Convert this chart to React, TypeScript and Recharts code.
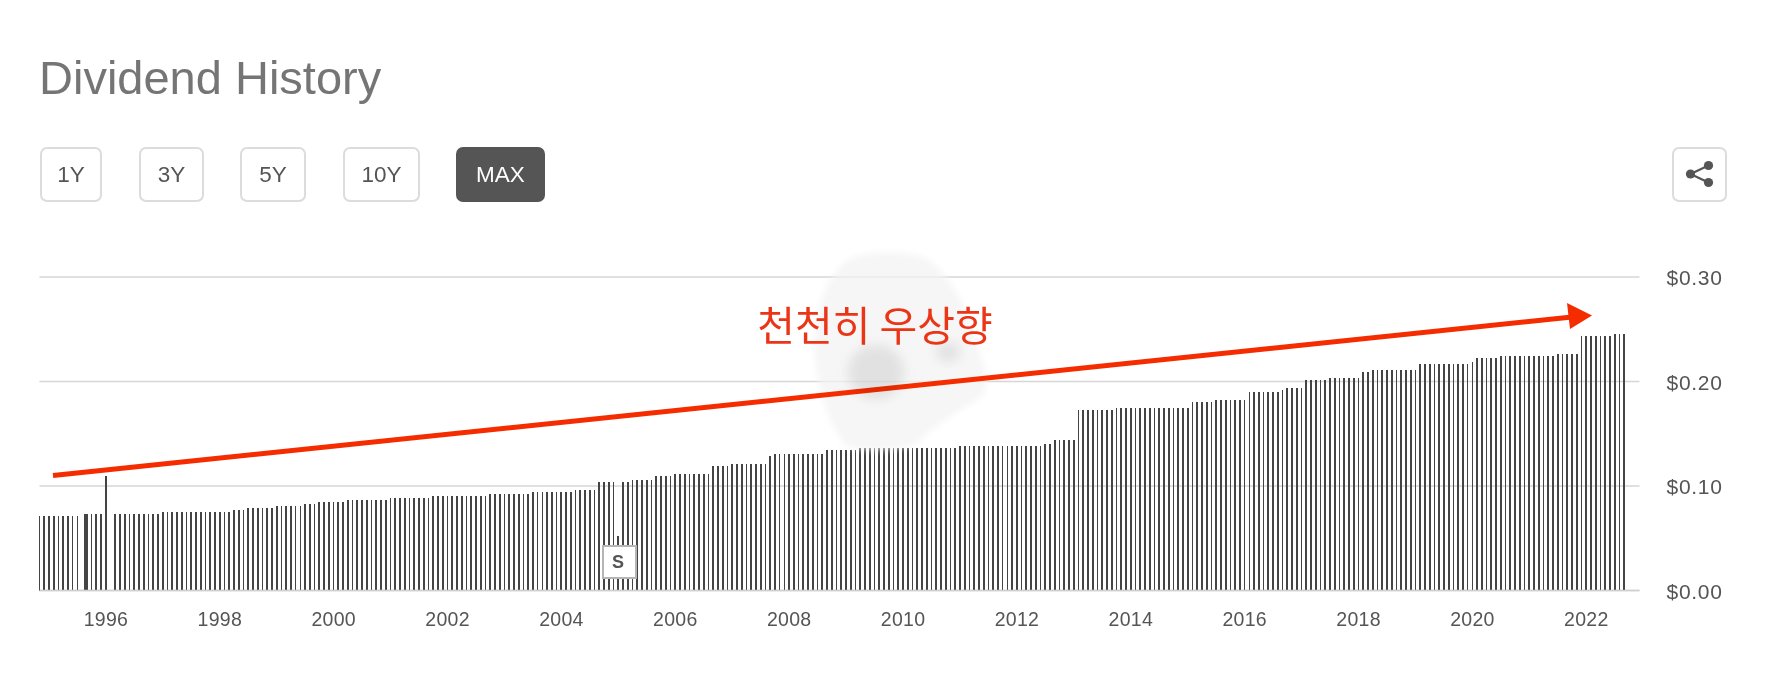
import { Bar, BarChart, CartesianGrid, XAxis, YAxis } from 'recharts';

const RANGE_BUTTONS = [
    { label: '1Y', left: 40, width: 62 },
    { label: '3Y', left: 139, width: 65 },
    { label: '5Y', left: 240, width: 66 },
    { label: '10Y', left: 343, width: 77 },
    { label: 'MAX', left: 456, width: 89, active: true },
];

const yearTicks = [
    1996, 1998, 2000, 2002, 2004, 2006, 2008, 2010, 2012, 2014, 2016, 2018,
    2020, 2022,
];
const priceTicks = [0, 0.1, 0.2, 0.3];

// monthly payouts, first one is Nov 1994 (null = no bar that month)
const monthlyDividends = [
    0.0713, 0.0713, 0.0713, 0.0713, 0.0713, 0.0713, 0.0713, 0.0713, 0.0713, null,
    0.0732, 0.0732, 0.0732, 0.0732, 0.1096, null,
    0.0732, 0.0732, 0.0732, 0.0732, 0.0732, 0.0732, 0.0732, 0.0732, 0.0732, 0.0732,
    0.0751, 0.0751, 0.0751, 0.0751, 0.0751, 0.0751, 0.0751, 0.0751, 0.0751, 0.0751, 0.0751, 0.0751, 0.0751, 0.0751, 0.0751,
    0.077, 0.077, 0.077,
    0.079, 0.079, 0.079, 0.079, 0.079, 0.079,
    0.0808, 0.0808, 0.0808, 0.0808, 0.0808, 0.0808,
    0.0828, 0.0828, 0.0828,
    0.0847, 0.0847, 0.0847, 0.0847, 0.0847, 0.0847,
    0.0866, 0.0866, 0.0866, 0.0866, 0.0866, 0.0866, 0.0866, 0.0866, 0.0866,
    0.0885, 0.0885, 0.0885, 0.0885, 0.0885, 0.0885, 0.0885, 0.0885, 0.0885,
    0.0904, 0.0904, 0.0904, 0.0904, 0.0904, 0.0904, 0.0904, 0.0904, 0.0904, 0.0904, 0.0904, 0.0904,
    0.0924, 0.0924, 0.0924, 0.0924, 0.0924, 0.0924, 0.0924, 0.0924, 0.0924,
    0.0943, 0.0943, 0.0943, 0.0943, 0.0943, 0.0943, 0.0943, 0.0943, 0.0943,
    0.0962, 0.0962, 0.0962, 0.0962, 0.0962,
    0.1038, 0.1038, 0.1038, 0.1038, 0.0522, 0.1038, 0.1038,
    0.1057, 0.1057, 0.1057, 0.1057, 0.1057,
    0.1096, 0.1096, 0.1096, 0.1096,
    0.1115, 0.1115, 0.1115, 0.1115, 0.1115, 0.1115, 0.1115, 0.1115,
    0.1191, 0.1191, 0.1191, 0.1191,
    0.1211, 0.1211, 0.1211, 0.1211, 0.1211, 0.1211, 0.1211, 0.1211,
    0.1287,
    0.1306, 0.1306, 0.1306, 0.1306, 0.1306, 0.1306, 0.1306, 0.1306, 0.1306, 0.1306, 0.1306,
    0.1344, 0.1344, 0.1344, 0.1344, 0.1344, 0.1344, 0.1344,
    0.1364, 0.1364, 0.1364, 0.1364, 0.1364, 0.1364, 0.1364, 0.1364, 0.1364, 0.1364, 0.1364,
    0.1364, 0.1364, 0.1364, 0.1364, 0.1364, 0.1364, 0.1364, 0.1364, 0.1364, 0.1364,
    0.1383, 0.1383, 0.1383, 0.1383, 0.1383, 0.1383, 0.1383, 0.1383, 0.1383,
    0.1383, 0.1383, 0.1383, 0.1383, 0.1383, 0.1383, 0.1383, 0.1383, 0.1383,
    0.1402, 0.1402,
    0.144, 0.144, 0.144, 0.144, 0.144,
    0.1727, 0.1727, 0.1727, 0.1727, 0.1727, 0.1727, 0.1727, 0.1727,
    0.1746, 0.1746, 0.1746, 0.1746, 0.1746, 0.1746, 0.1746, 0.1746,
    0.1746, 0.1746, 0.1746, 0.1746, 0.1746, 0.1746, 0.1746, 0.1746,
    0.1804, 0.1804, 0.1804, 0.1804, 0.1804,
    0.1823, 0.1823, 0.1823, 0.1823, 0.1823, 0.1823, 0.1823,
    0.19, 0.19, 0.19, 0.19, 0.19, 0.19, 0.19,
    0.1919,
    0.1938, 0.1938, 0.1938, 0.1938,
    0.2014, 0.2014, 0.2014, 0.2014, 0.2014,
    0.2033, 0.2033, 0.2033, 0.2033, 0.2033, 0.2033, 0.2033,
    0.2091, 0.2091,
    0.211, 0.211, 0.211, 0.211, 0.211, 0.211, 0.211, 0.211, 0.211, 0.211,
    0.2167, 0.2167, 0.2167, 0.2167, 0.2167, 0.2167, 0.2167, 0.2167, 0.2167, 0.2167, 0.2167,
    0.2187,
    0.2225, 0.2225, 0.2225, 0.2225, 0.2225,
    0.2244, 0.2244, 0.2244, 0.2244, 0.2244, 0.2244, 0.2244, 0.2244, 0.2244, 0.2244, 0.2244, 0.2244,
    0.2263, 0.2263, 0.2263, 0.2263, 0.2263,
    0.2435, 0.2435, 0.2435, 0.2435, 0.2435, 0.2435, 0.2435,
    0.2455, 0.2455, 0.2455,
];

// the doubled bar in autumn 1995
const extraDates = [1995.633];
const extraDividends = [0.0732];

const START_DATE = 1994 + 10 / 12;

const chartData = [
    ...monthlyDividends.map((value, index) => ({
        date: START_DATE + index / 12,
        value,
    })),
    ...extraDates.map((date, index) => ({
        date,
        value: extraDividends[index],
    })),
].sort((a, b) => a.date - b.date);

const FONT = '"Liberation Sans", Arial, sans-serif';

export default function App() {
    return (
        <div
            style={{
                position: 'absolute',
                left: 0,
                top: 0,
                width: 1770,
                height: 700,
                background: '#fff',
                overflow: 'hidden',
                fontFamily: FONT,
            }}
        >
            <div
                style={{
                    position: 'absolute',
                    left: 39,
                    top: 50,
                    fontSize: 47,
                    lineHeight: '56px',
                    color: '#757575',
                }}
            >
                Dividend History
            </div>

            {RANGE_BUTTONS.map((b) => (
                <div
                    key={b.label}
                    style={{
                        position: 'absolute',
                        boxSizing: 'border-box',
                        left: b.left,
                        top: 147,
                        width: b.width,
                        height: 55,
                        lineHeight: '51px',
                        textAlign: 'center',
                        fontSize: 22.5,
                        borderRadius: 7,
                        border: `2px solid ${b.active ? '#555' : '#dcdcdc'}`,
                        background: b.active ? '#555' : '#fff',
                        color: b.active ? '#fff' : '#555',
                    }}
                >
                    {b.label}
                </div>
            ))}

            <div
                style={{
                    position: 'absolute',
                    boxSizing: 'border-box',
                    left: 1672,
                    top: 147,
                    width: 55,
                    height: 55,
                    borderRadius: 7,
                    border: '2px solid #dcdcdc',
                }}
            >
                <svg width={51} height={51}>
                    <path
                        d="M16.5 25 L34.5 16.5 M16.5 25 L34.5 33.5"
                        stroke="#555"
                        strokeWidth={2.2}
                        fill="none"
                    />
                    <circle cx={16.5} cy={25} r={4.6} fill="#555" />
                    <circle cx={34.5} cy={16.5} r={4.6} fill="#555" />
                    <circle cx={34.5} cy={33.5} r={4.6} fill="#555" />
                </svg>
            </div>

            <div style={{ position: 'absolute', left: 0, top: 0 }}>
                <BarChart
                    width={1770}
                    height={700}
                    data={chartData}
                    margin={{ top: 277, right: 0, bottom: 0, left: 39.5 }}
                >
                    <CartesianGrid
                        vertical={false}
                        stroke="#d6d6d6"
                        strokeWidth={1.5}
                    />
                    <XAxis
                        dataKey="date"
                        type="number"
                        domain={[START_DATE, START_DATE + 337.2 / 12]}
                        ticks={yearTicks}
                        tickFormatter={(year) => String(year)}
                        height={109.5}
                        tickLine={false}
                        tickMargin={16}
                        axisLine={{ stroke: '#cfcfcf', strokeWidth: 1.5 }}
                        tick={{
                            fill: '#555',
                            fontSize: 19.5,
                            letterSpacing: 0.3,
                            fontFamily: FONT,
                        }}
                    />
                    <YAxis
                        orientation="right"
                        domain={[0, 0.3]}
                        ticks={priceTicks}
                        tickFormatter={(v) => `$${Number(v).toFixed(2)}`}
                        width={130.5}
                        axisLine={false}
                        tickLine={false}
                        tickMargin={21}
                        tick={{
                            fill: '#555',
                            fontSize: 21,
                            letterSpacing: 0.7,
                            fontFamily: FONT,
                            dy: 1,
                        }}
                    />
                    <Bar
                        dataKey="value"
                        fill="#444"
                        barSize={2}
                        shapeRendering="crispEdges"
                        isAnimationActive={false}
                    />
                </BarChart>
            </div>

            <div
                style={{
                    position: 'absolute',
                    boxSizing: 'border-box',
                    left: 602,
                    top: 545,
                    width: 35,
                    height: 34,
                    paddingRight: 3,
                    background: '#fff',
                    border: '2px solid #b5b5b5',
                    textAlign: 'center',
                    lineHeight: '30px',
                    fontSize: 18,
                    fontWeight: 'bold',
                    color: '#555',
                }}
            >
                S
            </div>

            <svg
                width={1770}
                height={700}
                style={{ position: 'absolute', left: 0, top: 0 }}
            >
                <defs>
                    <filter id="soft" x="-10%" y="-10%" width="120%" height="120%">
                        <feGaussianBlur stdDeviation="3" />
                    </filter>
                    <filter id="softer" x="-30%" y="-30%" width="160%" height="160%">
                        <feGaussianBlur stdDeviation="6" />
                    </filter>
                </defs>
                {/* watermark sits under the red annotation */}
                <path
                    d="M845 262 C860 250 905 250 925 258 C950 272 968 310 975 340 C985 365 992 385 980 398 C960 410 935 425 915 445 C890 452 860 452 845 445 C830 425 820 395 815 360 C812 325 820 285 845 262 Z"
                    fill="#f3f3f3"
                    fillOpacity={0.72}
                    filter="url(#soft)"
                />
                <ellipse
                    cx={948}
                    cy={352}
                    rx={12}
                    ry={10}
                    fill="#d8d8d8"
                    fillOpacity={0.7}
                    filter="url(#softer)"
                />
                <line
                    x1={53}
                    y1={475.5}
                    x2={1572}
                    y2={317}
                    stroke="#f52c00"
                    strokeWidth={5}
                />
                <path d="M1567 303 L1592 315.5 L1570 329 Z" fill="#f52c00" />
                <text
                    x={875}
                    y={341}
                    textAnchor="middle"
                    fontSize={41}
                    fontFamily='"Noto Sans CJK KR", sans-serif'
                    fill="#ea3517"
                >
                    천천히 우상향
                </text>
                <ellipse
                    cx={876}
                    cy={372}
                    rx={28}
                    ry={27}
                    fill="#dcdcdc"
                    fillOpacity={0.6}
                    filter="url(#softer)"
                    style={{ mixBlendMode: 'multiply' }}
                />
            </svg>
        </div>
    );
}
